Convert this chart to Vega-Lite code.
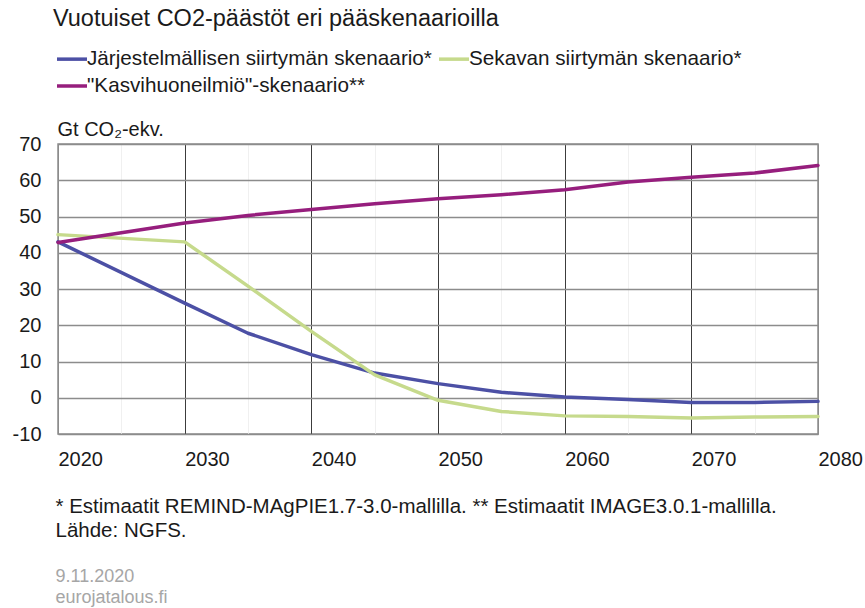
{
  "$schema": "https://vega.github.io/schema/vega-lite/v6.json",
  "autosize": "none",
  "width": 760,
  "height": 290,
  "padding": {"left": 58, "top": 144, "right": 47, "bottom": 174},
  "background": "white",
  "title": {
    "text": "Vuotuiset CO2-päästöt eri pääskenaarioilla",
    "anchor": "start",
    "frame": "group",
    "fontSize": 23.5,
    "fontWeight": "normal",
    "font": "Liberation Sans",
    "color": "#1a1a1a",
    "dx": -5,
    "dy": -12,
    "offset": 0
  },
  "data": {
    "values": [
      {"year": 2020, "scenario": "Järjestelmällisen siirtymän skenaario*", "value": 43.0},
      {"year": 2030, "scenario": "Järjestelmällisen siirtymän skenaario*", "value": 26.1},
      {"year": 2035, "scenario": "Järjestelmällisen siirtymän skenaario*", "value": 17.8},
      {"year": 2040, "scenario": "Järjestelmällisen siirtymän skenaario*", "value": 11.9},
      {"year": 2045, "scenario": "Järjestelmällisen siirtymän skenaario*", "value": 6.8},
      {"year": 2050, "scenario": "Järjestelmällisen siirtymän skenaario*", "value": 3.9},
      {"year": 2055, "scenario": "Järjestelmällisen siirtymän skenaario*", "value": 1.5},
      {"year": 2060, "scenario": "Järjestelmällisen siirtymän skenaario*", "value": 0.2},
      {"year": 2065, "scenario": "Järjestelmällisen siirtymän skenaario*", "value": -0.5},
      {"year": 2070, "scenario": "Järjestelmällisen siirtymän skenaario*", "value": -1.3},
      {"year": 2075, "scenario": "Järjestelmällisen siirtymän skenaario*", "value": -1.3},
      {"year": 2080, "scenario": "Järjestelmällisen siirtymän skenaario*", "value": -1.0},
      {"year": 2020, "scenario": "Sekavan siirtymän skenaario*", "value": 45.0},
      {"year": 2030, "scenario": "Sekavan siirtymän skenaario*", "value": 43.0},
      {"year": 2035, "scenario": "Sekavan siirtymän skenaario*", "value": 30.8},
      {"year": 2040, "scenario": "Sekavan siirtymän skenaario*", "value": 18.3},
      {"year": 2045, "scenario": "Sekavan siirtymän skenaario*", "value": 6.3},
      {"year": 2050, "scenario": "Sekavan siirtymän skenaario*", "value": -0.7},
      {"year": 2055, "scenario": "Sekavan siirtymän skenaario*", "value": -3.8},
      {"year": 2060, "scenario": "Sekavan siirtymän skenaario*", "value": -5.0},
      {"year": 2065, "scenario": "Sekavan siirtymän skenaario*", "value": -5.2},
      {"year": 2070, "scenario": "Sekavan siirtymän skenaario*", "value": -5.6},
      {"year": 2075, "scenario": "Sekavan siirtymän skenaario*", "value": -5.3},
      {"year": 2080, "scenario": "Sekavan siirtymän skenaario*", "value": -5.2},
      {"year": 2020, "scenario": "\"Kasvihuoneilmiö\"-skenaario**", "value": 42.8},
      {"year": 2030, "scenario": "\"Kasvihuoneilmiö\"-skenaario**", "value": 48.2},
      {"year": 2035, "scenario": "\"Kasvihuoneilmiö\"-skenaario**", "value": 50.3},
      {"year": 2040, "scenario": "\"Kasvihuoneilmiö\"-skenaario**", "value": 51.9},
      {"year": 2045, "scenario": "\"Kasvihuoneilmiö\"-skenaario**", "value": 53.5},
      {"year": 2050, "scenario": "\"Kasvihuoneilmiö\"-skenaario**", "value": 54.9},
      {"year": 2055, "scenario": "\"Kasvihuoneilmiö\"-skenaario**", "value": 56.0},
      {"year": 2060, "scenario": "\"Kasvihuoneilmiö\"-skenaario**", "value": 57.4},
      {"year": 2065, "scenario": "\"Kasvihuoneilmiö\"-skenaario**", "value": 59.5},
      {"year": 2070, "scenario": "\"Kasvihuoneilmiö\"-skenaario**", "value": 60.8},
      {"year": 2075, "scenario": "\"Kasvihuoneilmiö\"-skenaario**", "value": 62.0},
      {"year": 2080, "scenario": "\"Kasvihuoneilmiö\"-skenaario**", "value": 64.1}
    ]
  },
  "layer": [
    {
      "mark": {"type": "line", "strokeOpacity": 0, "strokeWidth": 1},
      "encoding": {
        "x": {
          "field": "year",
          "type": "quantitative",
          "scale": {"domain": [2020, 2080], "nice": false, "zero": false},
          "axis": {
            "orient": "top",
            "values": [2025, 2035, 2045, 2055, 2065, 2075],
            "labels": false,
            "ticks": false,
            "domain": false,
            "grid": true,
            "gridColor": "#f0f0f0",
            "gridWidth": 1,
            "title": ["9.11.2020", "eurojatalous.fi"],
            "titleFont": "Liberation Sans",
            "titleFontSize": 18,
            "titleFontWeight": "normal",
            "titleColor": "#a6a6a6",
            "titleAlign": "left",
            "titleAnchor": "start",
            "titleBaseline": "alphabetic",
            "titleLineHeight": 21,
            "titleX": -3,
            "titleY": 437
          }
        },
        "y": {
          "field": "value",
          "type": "quantitative",
          "scale": {"domain": [-10, 70], "nice": false, "zero": false},
          "axis": {
            "values": [-10, 0, 10, 20, 30, 40, 50, 60, 70],
            "labelExpr": "datum.value < 0 ? '-' + abs(datum.value) : '' + datum.value",
            "labelFont": "Liberation Sans",
            "labelFontSize": 20,
            "labelColor": "#1a1a1a",
            "labelPadding": 17,
            "labelFlush": false,
            "labelOverlap": false,
            "labelSeparation": 0,
            "ticks": false,
            "domain": false,
            "grid": true,
            "gridColor": "#8c8c8c",
            "gridWidth": 1.5,
            "title": "Gt CO₂-ekv.",
            "titleFont": "Liberation Sans",
            "titleFontSize": 20,
            "titleFontWeight": "normal",
            "titleColor": "#1a1a1a",
            "titleAngle": 0,
            "titleAlign": "left",
            "titleAnchor": "start",
            "titleBaseline": "alphabetic",
            "titleX": -1,
            "titleY": -9
          }
        },
        "detail": {"field": "scenario"}
      }
    },
    {
      "mark": {"type": "line", "strokeWidth": 3.5, "strokeCap": "round", "strokeJoin": "round"},
      "encoding": {
        "x": {
          "field": "year",
          "type": "quantitative",
          "axis": {
            "orient": "bottom",
            "values": [2020, 2030, 2040, 2050, 2060, 2070, 2080],
            "format": "d",
            "labelAlign": "left",
            "labelDx": -2,
            "labelBaseline": "alphabetic",
            "labelPadding": 31,
            "labelFont": "Liberation Sans",
            "labelFontSize": 20,
            "labelColor": "#1a1a1a",
            "labelFlush": false,
            "labelOverlap": false,
            "ticks": false,
            "domain": false,
            "grid": true,
            "gridColor": {"condition": {"test": "datum.value === 2020 || datum.value === 2080", "value": "#8c8c8c"}, "value": "#3c3c3c"},
            "gridWidth": 1,
            "title": ["* Estimaatit REMIND-MAgPIE1.7-3.0-mallilla.  ** Estimaatit IMAGE3.0.1-mallilla.", "Lähde: NGFS."],
            "titleFont": "Liberation Sans",
            "titleFontSize": 20.5,
            "titleFontWeight": "normal",
            "titleColor": "#1a1a1a",
            "titleAlign": "left",
            "titleAnchor": "start",
            "titleBaseline": "alphabetic",
            "titleLineHeight": 24,
            "titleX": -3,
            "titleY": 78
          }
        },
        "y": {
          "field": "value",
          "type": "quantitative",
          "axis": {
            "values": [-10, 0, 10, 20, 30, 40, 50, 60, 70],
            "labelExpr": "datum.value < 0 ? '-' + abs(datum.value) : '' + datum.value",
            "labelFont": "Liberation Sans",
            "labelFontSize": 20,
            "labelColor": "#1a1a1a",
            "labelPadding": 17,
            "labelFlush": false,
            "labelOverlap": false,
            "labelSeparation": 0,
            "ticks": false,
            "domain": false,
            "grid": true,
            "gridColor": "#8c8c8c",
            "gridWidth": 1.5,
            "title": "Gt CO₂-ekv.",
            "titleFont": "Liberation Sans",
            "titleFontSize": 20,
            "titleFontWeight": "normal",
            "titleColor": "#1a1a1a",
            "titleAngle": 0,
            "titleAlign": "left",
            "titleAnchor": "start",
            "titleBaseline": "alphabetic",
            "titleX": -1,
            "titleY": -9
          }
        },
        "color": {
          "field": "scenario",
          "type": "nominal",
          "scale": {
            "domain": ["Järjestelmällisen siirtymän skenaario*", "Sekavan siirtymän skenaario*", "\"Kasvihuoneilmiö\"-skenaario**"],
            "range": ["#4c50a5", "#c6da8c", "#961e7d"]
          },
          "legend": {
            "orient": "none",
            "legendX": -3,
            "legendY": -102,
            "columns": 2,
            "direction": "horizontal",
            "title": null,
            "symbolType": "stroke",
            "symbolSize": 900,
            "symbolStrokeWidth": 3.5,
            "labelFont": "Liberation Sans",
            "labelFontSize": 20.7,
            "labelColor": "#1a1a1a",
            "labelLimit": 0,
            "labelOffset": -2,
            "columnPadding": 0,
            "rowPadding": 0
          }
        }
      }
    }
  ],
  "resolve": {"axis": {"x": "independent"}},
  "config": {
    "view": {"stroke": "#8c8c8c", "strokeWidth": 1.5},
    "font": "Liberation Sans",
    "axisY": {"labelOverlap": false}
  }
}
